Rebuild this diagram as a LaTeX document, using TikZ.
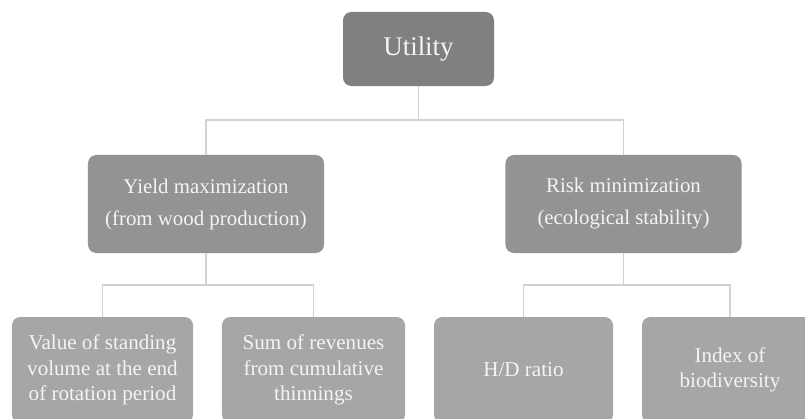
\documentclass[tikz,border=0pt]{standalone}
\usepackage{fontspec}
\setmainfont{Liberation Serif}
\usepackage{tikz}
\definecolor{topgray}{HTML}{808080}
\definecolor{midgray}{HTML}{939393}
\definecolor{leafgray}{HTML}{A6A6A6}
\definecolor{linkgray}{HTML}{D2D2D2}
\definecolor{txtgray}{HTML}{F4F4F4}
\tikzstyle{box}=[rounded corners=0.25cm, text=txtgray, align=center, inner sep=0pt]
\tikzstyle{topbox}=[box, fill=topgray, minimum width=4.53cm, minimum height=2.22cm, font=\fontsize{23}{27}\selectfont]
\tikzstyle{midbox}=[box, fill=midgray, minimum width=7.08cm, minimum height=2.94cm, font=\fontsize{17.8}{27.3}\selectfont]
\tikzstyle{leafbox}=[box, fill=leafgray, minimum height=3.18cm, font=\fontsize{18}{21.5}\selectfont]
\tikzstyle{link}=[draw=linkgray, line width=1.3pt]
\usetikzlibrary{positioning}

\begin{document}
\begin{tikzpicture}[x=0.03cm,y=-0.03cm]
\useasboundingbox (0,0) rectangle (805,419);
\node (util) [topbox] at (418.5,49) {Utility};
\node (yield) [midbox] at (206,204) {Yield maximization\\(from wood production)};
\node (risk) [midbox] at (623.5,204) {Risk minimization\\(ecological stability)};
\node (value) [leafbox,minimum width=5.43cm] at (102.5,370) {Value of standing\\volume at the end\\of rotation period};
\node (sum) [leafbox,minimum width=5.49cm] at (313.5,370) {Sum of revenues\\from cumulative\\thinnings};
\node (hd) [leafbox,minimum width=5.37cm] at (523.5,370) {H/D ratio};
\node (index) [leafbox,minimum width=5.28cm] at (730,370) {Index of\\biodiversity};
\draw[link] (util.south)--++(0,34)-|(yield.north);
\draw[link] (util.south)--++(0,34)-|(risk.north);
\draw[link] (yield.south)--++(0,32)-|(value.north);
\draw[link] (yield.south)--++(0,32)-|(sum.north);
\draw[link] (risk.south)--++(0,32)-|(hd.north);
\draw[link] (risk.south)--++(0,32)-|(index.north);
\end{tikzpicture}
\end{document}
